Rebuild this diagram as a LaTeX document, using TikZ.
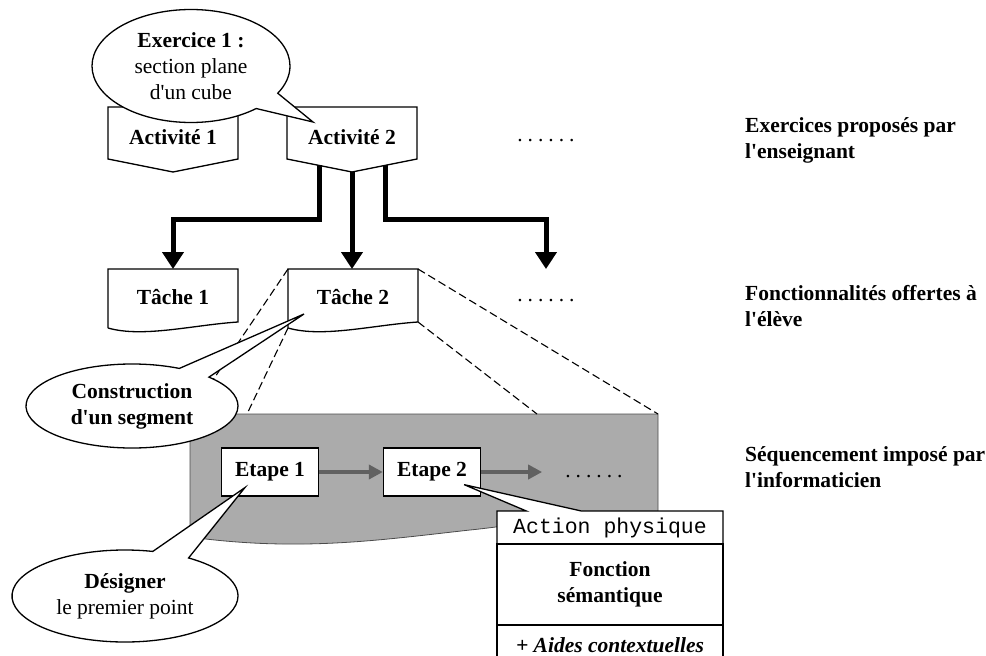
\documentclass[tikz,border=0pt]{standalone}
\usepackage{fontspec}
\setmainfont{Liberation Serif}[Ligatures=TeXOff]
\setmonofont{Liberation Mono}
\usetikzlibrary{arrows.meta,positioning,calc,shapes.callouts}

\newcommand{\taille}{\fontsize{21.5}{26}\selectfont}
\newcommand{\pointilles}{.\kern5pt.\kern5pt.\kern5pt.\kern5pt.\kern5pt.}

\begin{document}
\begin{tikzpicture}[
  x=1pt, y=-1pt,
  font=\taille,
  box/.style={minimum width=130pt, inner sep=0pt, outer sep=0pt, font=\taille\bfseries},
  outline/.style={draw, line width=1.3pt, line join=miter},
  bulle/.style={ellipse callout, draw, fill=white, line width=1.3pt, align=center, inner sep=0pt, callout pointer arc=20},
  etape/.style={draw, fill=white, line width=1.3pt, minimum width=97pt, minimum height=48pt, inner sep=0pt, font=\taille\bfseries},
  fct/.style={draw, fill=white, line width=1.3pt, minimum width=226pt, inner sep=0pt, outer sep=0pt, align=center},
  fleche/.style={-{Triangle[width=21pt,length=17pt]}, line width=5pt},
  gfleche/.style={-{Triangle[width=14pt,length=14pt]}, line width=3.5pt, draw=black!62, fill=black!62},
  proj/.style={dash pattern=on 8pt off 4pt, line width=1.1pt},
  niveau/.style={anchor=west, align=left, inner sep=0pt, font=\taille\bfseries}
]
  \useasboundingbox (0,0) rectangle (986,656);

  \node[box, minimum height=60pt] (act1) at (173,137) {Activité 1};
  \node[box, minimum height=60pt] (act2) at (352,137) {Activité 2};
  \node (suite1) at (546,141) {\pointilles};
  \node[box, minimum height=56pt] (tache1) at (173,297) {Tâche 1};
  \node[box, minimum height=56pt] (tache2) at (353,297) {Tâche 2};
  \node (suite2) at (546,301) {\pointilles};
  \coordinate (fin) at ($(suite2)+(0,-32)$);

  \node[niveau] (niv1) at (745,140.5) {Exercices proposés par\\l'enseignant};
  \node[niveau] (niv2) at (745,306) {Fonctionnalités offertes à\\l'élève};
  \node[niveau] (niv3) at (745,467.5) {Séquencement imposé par\\l'informaticien};

  % sequence imposee
  \coordinate (seqNW) at (190,414);
  \coordinate (seqNE) at (658,414);
  \fill[black!33, draw=black!70, line width=0.8pt] (seqNW) -- (seqNE) -- (658,515)
    .. controls (560,515) and (520,525) .. (470,530)
    .. controls (380,540) and (300,552) .. (190,537) -- cycle;
  \draw[proj] (tache2.north west) -- (seqNW);
  \draw[proj] ($(tache2.south west)+(0,3)$) -- (247,414);
  \draw[proj] (tache2.north east) -- (seqNE);
  \draw[proj] ($(tache2.south east)+(0,-3)$) -- (537,414);

  \draw[outline] (act1.north west) -- (act1.north east) -- ($(act1.south east)+(0,-8)$)
    -- ($(act1.south)+(0,5)$) -- ($(act1.south west)+(0,-8)$) -- cycle;
  \draw[outline] (act2.north west) -- (act2.north east) -- ($(act2.south east)+(0,-8)$)
    -- ($(act2.south)+(0,5)$) -- ($(act2.south west)+(0,-8)$) -- cycle;
  \draw[outline] ($(tache1.south west)+(0,3)$) -- (tache1.north west) -- (tache1.north east)
    -- ($(tache1.south east)+(0,-3)$) .. controls +(-45,3) and +(35,10) .. ($(tache1.south west)+(0,3)$);
  \draw[outline] ($(tache2.south west)+(0,3)$) -- (tache2.north west) -- (tache2.north east)
    -- ($(tache2.south east)+(0,-3)$) .. controls +(-45,3) and +(35,10) .. ($(tache2.south west)+(0,3)$);

  \draw[fleche] ($(act2.south)+(-33,-2)$) -- ++(0,54) -| (tache1.north);
  \draw[fleche] ($(act2.south)+(0,5)$) -- (act2.south |- tache2.north);
  \draw[fleche] ($(act2.south)+(33,-2)$) -- ++(0,54) -| (fin);

  \node[etape] (e1) at (270,472) {Etape 1};
  \node[etape] (e2) at (432,472) {Etape 2};
  \node (suite3) at (594,477) {\pointilles};
  \draw[gfleche] (e1) -- (e2);
  \draw[gfleche] (e2.east) -- ++(61,0);

  \node[fct, rectangle callout, callout absolute pointer={($(e2.south east)+(-17,-12)$)},
    callout pointer width=55pt, minimum height=33pt, font=\taille\ttfamily] (phys) at (610,527.5) {Action physique};
  \node[fct, minimum height=81pt, below=0pt of phys, font=\taille\bfseries] (sem) {Fonction\\sémantique};
  \node[fct, minimum height=40pt, below=0pt of sem, font=\taille\bfseries\itshape] (aide) {+ Aides contextuelles};

  \node[bulle, minimum width=198pt, minimum height=113pt,
    callout absolute pointer={($(act2.north west)+(26,15)$)}] (ex1) at (191,66)
    {\textbf{Exercice 1 :}\\section plane\\d'un cube};
  \node[bulle, font=\taille\bfseries, minimum width=212pt, minimum height=84pt,
    callout absolute pointer={($(tache2.north west)+(16,45)$)}] (cons) at (132,406)
    {Construction\\d'un segment};
  \node[bulle, minimum width=226pt, minimum height=92pt,
    callout absolute pointer={($(e1.south west)+(24,-9)$)}] (desig) at (125,596)
    {\textbf{Désigner}\\le premier point};
\end{tikzpicture}
\end{document}
